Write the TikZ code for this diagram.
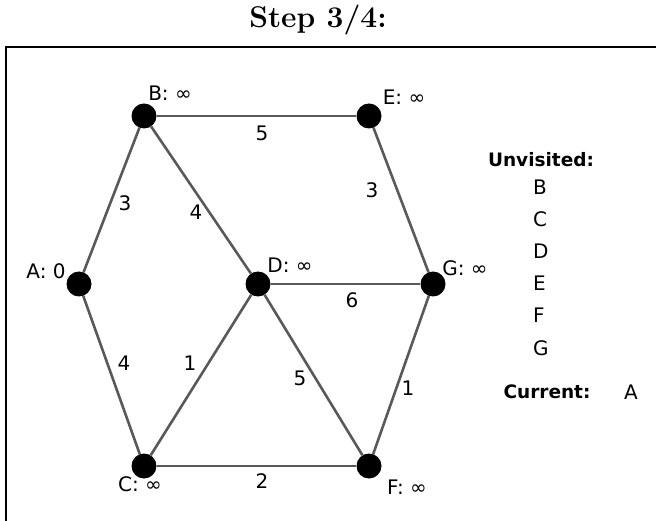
\documentclass[tikz,border=0pt]{standalone}
\usepackage{fontspec}
\setsansfont{DejaVu Sans}
\begin{document}
\begin{tikzpicture}[x=1pt,y=-1pt,
  vert/.style={circle,fill=black,inner sep=0pt,minimum size=25pt},
  edge/.style={draw=black!65,line width=2.6pt},
  lab/.style={font=\sffamily\fontsize{20}{24}\selectfont,inner sep=0pt},
  blab/.style={font=\sffamily\bfseries\fontsize{18.5}{22}\selectfont,inner sep=0pt}]
\useasboundingbox (0,0) rectangle (656,521);
\node[font=\bfseries\fontsize{30}{36}\selectfont,anchor=base,inner sep=0pt] (title) at (318,28) {Step 3/4:};
\begin{scope}
\clip (0,0) rectangle (656,521);
\draw[line width=1.3pt] (6,700) -- (6,47) -- (700,47);
\end{scope}
\node[vert] (A) at (79,284) {};
\node[vert] (B) at (144,116) {};
\node[vert] (E) at (369,116) {};
\node[vert] (D) at (258,284) {};
\node[vert] (G) at (433,284) {};
\node[vert] (C) at (144,466) {};
\node[vert] (F) at (369,466) {};
\path[edge] (A) -- (B);
\path[edge] (B) -- (E);
\path[edge] (B) -- (D);
\path[edge] (E) -- (G);
\path[edge] (D) -- (G);
\path[edge] (A) -- (C);
\path[edge] (C) -- (D);
\path[edge] (D) -- (F);
\path[edge] (G) -- (F);
\path[edge] (C) -- (F);
% vertex labels
\node[lab] (lA) at (46,271) {A: 0};
\node[lab] (lB) at (170,93) {B: ∞};
\node[lab] (lE) at (404,97) {E: ∞};
\node[lab] (lD) at (290,265) {D: ∞};
\node[lab] (lG) at (465,268) {G: ∞};
\node[lab] (lC) at (140,484) {C: ∞};
\node[lab] (lF) at (407,487) {F: ∞};
% edge weights
\node[lab] (wBE) at (262,133) {5};
\node[lab] (wAB) at (125,203) {3};
\node[lab] (wBD) at (196,212) {4};
\node[lab] (wEG) at (372,190) {3};
\node[lab] (wDG) at (352,300) {6};
\node[lab] (wAC) at (124,363) {4};
\node[lab] (wCD) at (190,363) {1};
\node[lab] (wDF) at (300,378) {5};
\node[lab] (wGF) at (408,388) {1};
\node[lab] (wCF) at (262,481) {2};
% side panel
\node[blab] (unv) at (541,160) {Unvisited:};
\node[lab,anchor=west] (uB) at (533,187) {B};
\node[lab,anchor=west] (uC) at (533,219) {C};
\node[lab,anchor=west] (uD) at (533,251) {D};
\node[lab,anchor=west] (uE) at (533,283) {E};
\node[lab,anchor=west] (uF) at (533,315) {F};
\node[lab,anchor=west] (uG) at (533,348) {G};
\node[blab] (cur) at (547,392) {Current:};
\node[lab] (curA) at (631,392) {A};
\end{tikzpicture}
\end{document}
